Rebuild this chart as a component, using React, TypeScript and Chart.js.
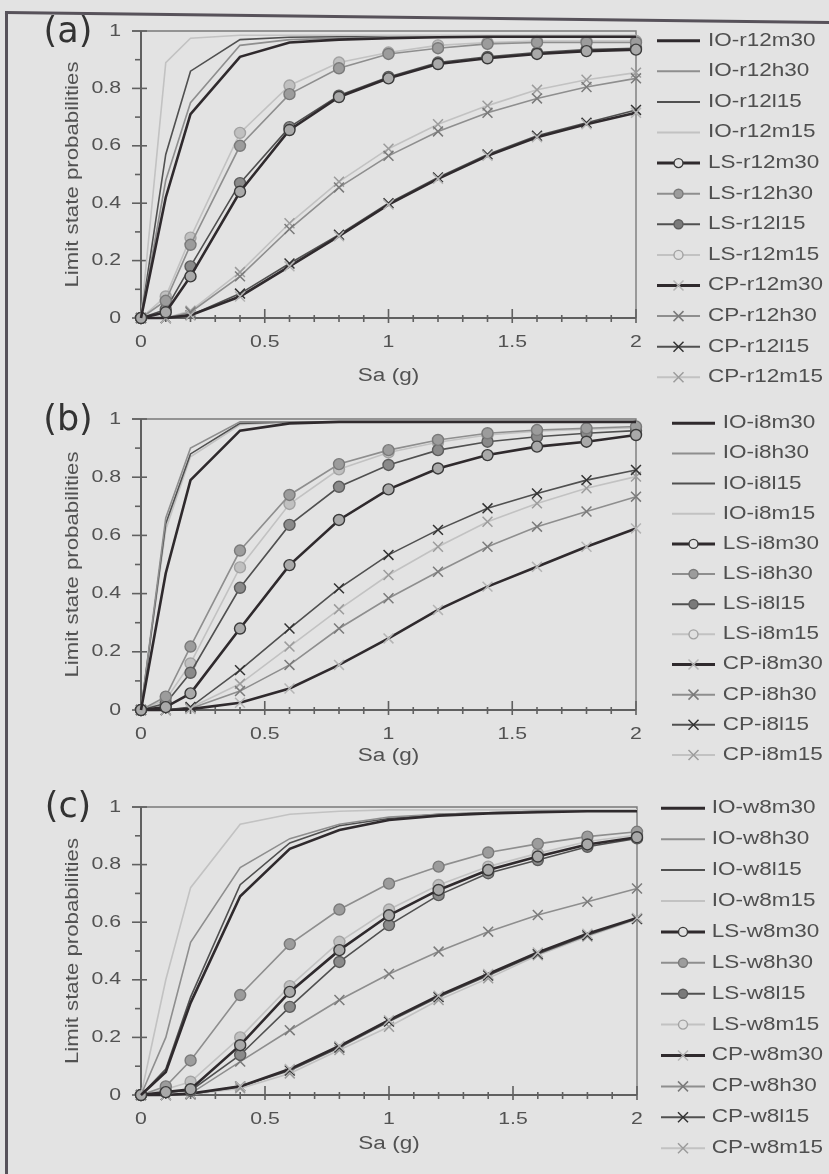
import React, { useEffect, useRef } from "react";
import { Chart, registerables } from "chart.js";
Chart.register(...registerables);

// ---------- data ----------
const SA = [0, 0.1, 0.2, 0.4, 0.6, 0.8, 1.0, 1.2, 1.4, 1.6, 1.8, 2.0];
const X_TICKS = [0, 0.5, 1, 1.5, 2];
const Y_TICKS = [0, 0.2, 0.4, 0.6, 0.8, 1];
const X_TITLE = "Sa (g)";
const Y_TITLE = "Limit state probabilities";
const LIMIT_STATES = ["IO", "LS", "CP"];

// panel (a)
const CASES_A = ["r12m30", "r12h30", "r12l15", "r12m15"];
const A_IO_M30 = [0, 0.42, 0.71, 0.91, 0.96, 0.97, 0.975, 0.978, 0.98, 0.98, 0.98, 0.98];
const A_IO_H30 = [0, 0.48, 0.75, 0.95, 0.97, 0.975, 0.98, 0.98, 0.98, 0.98, 0.98, 0.98];
const A_IO_L15 = [0, 0.57, 0.86, 0.97, 0.978, 0.98, 0.98, 0.98, 0.98, 0.98, 0.98, 0.98];
const A_IO_M15 = [0, 0.89, 0.975, 0.985, 0.985, 0.985, 0.985, 0.985, 0.985, 0.985, 0.985, 0.985];
const A_LS_M30 = [0, 0.02, 0.145, 0.44, 0.655, 0.77, 0.835, 0.885, 0.905, 0.92, 0.93, 0.935];
const A_LS_H30 = [0, 0.06, 0.255, 0.6, 0.78, 0.87, 0.92, 0.94, 0.955, 0.96, 0.96, 0.96];
const A_LS_L15 = [0, 0.03, 0.18, 0.47, 0.665, 0.775, 0.84, 0.89, 0.91, 0.925, 0.935, 0.94];
const A_LS_M15 = [0, 0.075, 0.28, 0.645, 0.81, 0.89, 0.925, 0.95, 0.96, 0.965, 0.965, 0.965];
const A_CP_M30 = [0, 0, 0.01, 0.075, 0.18, 0.285, 0.395, 0.485, 0.565, 0.63, 0.675, 0.715];
const A_CP_H30 = [0, 0, 0.02, 0.145, 0.31, 0.455, 0.565, 0.65, 0.715, 0.765, 0.805, 0.835];
const A_CP_L15 = [0, 0, 0.01, 0.085, 0.19, 0.29, 0.4, 0.49, 0.57, 0.635, 0.68, 0.725];
const A_CP_M15 = [0, 0, 0.025, 0.16, 0.33, 0.475, 0.59, 0.675, 0.74, 0.795, 0.83, 0.855];

// panel (b)
const CASES_B = ["i8m30", "i8h30", "i8l15", "i8m15"];
const B_IO_M30 = [0, 0.47, 0.79, 0.96, 0.985, 0.99, 0.99, 0.99, 0.99, 0.99, 0.99, 0.99];
const B_IO_H30 = [0, 0.66, 0.9, 0.99, 0.99, 0.99, 0.99, 0.99, 0.99, 0.99, 0.99, 0.99];
const B_IO_L15 = [0, 0.64, 0.88, 0.985, 0.99, 0.99, 0.99, 0.99, 0.99, 0.99, 0.99, 0.99];
const B_IO_M15 = [0, 0.62, 0.87, 0.98, 0.99, 0.99, 0.99, 0.99, 0.99, 0.99, 0.99, 0.99];
const B_LS_M30 = [0, 0.01, 0.057, 0.28, 0.498, 0.653, 0.758, 0.83, 0.876, 0.905, 0.922, 0.945];
const B_LS_H30 = [0, 0.046, 0.218, 0.548, 0.739, 0.845, 0.893, 0.928, 0.951, 0.962, 0.968, 0.974];
const B_LS_L15 = [0, 0.023, 0.128, 0.42, 0.636, 0.767, 0.842, 0.893, 0.922, 0.939, 0.951, 0.96];
const B_LS_M15 = [0, 0.035, 0.16, 0.49, 0.708, 0.827, 0.885, 0.92, 0.945, 0.958, 0.965, 0.97];
const B_CP_M30 = [0, 0, 0.003, 0.025, 0.074, 0.155, 0.246, 0.344, 0.424, 0.492, 0.561, 0.624];
const B_CP_H30 = [0, 0, 0.005, 0.065, 0.155, 0.28, 0.384, 0.475, 0.561, 0.63, 0.682, 0.733];
const B_CP_L15 = [0, 0, 0.01, 0.137, 0.28, 0.418, 0.533, 0.619, 0.693, 0.744, 0.79, 0.825];
const B_CP_M15 = [0, 0, 0.008, 0.09, 0.218, 0.346, 0.464, 0.561, 0.647, 0.71, 0.762, 0.802];

// panel (c)
const CASES_C = ["w8m30", "w8h30", "w8l15", "w8m15"];
const C_IO_M30 = [0, 0.08, 0.32, 0.69, 0.855, 0.92, 0.955, 0.97, 0.978, 0.982, 0.985, 0.985];
const C_IO_H30 = [0, 0.2, 0.53, 0.79, 0.89, 0.94, 0.965, 0.975, 0.98, 0.985, 0.985, 0.985];
const C_IO_L15 = [0, 0.09, 0.34, 0.73, 0.875, 0.935, 0.96, 0.975, 0.98, 0.985, 0.985, 0.985];
const C_IO_M15 = [0, 0.4, 0.72, 0.94, 0.975, 0.985, 0.99, 0.99, 0.99, 0.99, 0.99, 0.99];
const C_LS_M30 = [0, 0.01, 0.02, 0.173, 0.358, 0.503, 0.624, 0.712, 0.781, 0.828, 0.87, 0.895];
const C_LS_H30 = [0, 0.03, 0.12, 0.347, 0.524, 0.644, 0.734, 0.793, 0.842, 0.872, 0.897, 0.914];
const C_LS_L15 = [0, 0.01, 0.015, 0.139, 0.306, 0.462, 0.59, 0.694, 0.77, 0.816, 0.862, 0.891];
const C_LS_M15 = [0, 0.02, 0.046, 0.2, 0.378, 0.532, 0.644, 0.729, 0.793, 0.839, 0.88, 0.903];
const C_CP_M30 = [0, 0, 0.005, 0.03, 0.09, 0.17, 0.26, 0.345, 0.42, 0.495, 0.56, 0.615];
const C_CP_H30 = [0, 0, 0.005, 0.116, 0.225, 0.33, 0.42, 0.498, 0.567, 0.625, 0.671, 0.717];
const C_CP_L15 = [0, 0, 0.003, 0.03, 0.085, 0.165, 0.255, 0.34, 0.415, 0.49, 0.555, 0.612];
const C_CP_M15 = [0, 0, 0.002, 0.023, 0.075, 0.156, 0.237, 0.33, 0.405, 0.485, 0.55, 0.61];

// ---------- styles ----------
const LINE_COLORS = ["#2f2a2d", "#8e8e8e", "#505050", "#c2c2c2"];
const LINE_WIDTHS = [2.6, 1.6, 1.6, 1.6];
const LS_FILL = ["#a9a9a9", "#9c9c9c", "#8a8a8a", "#c0c0c0"];
const LS_EDGE = ["#3a3a3a", "#7a7a7a", "#5c5c5c", "#a2a2a2"];
const LS_LEGEND_FILL = ["#e2e2e2", "#9c9c9c", "#7a7a7a", "#e0e0e0"];
const CP_EDGE = ["#b4b4b4", "#7a7a7a", "#333333", "#9c9c9c"];
const TEXT_COLOR = "#525252";
const FONT = '"Liberation Sans", Arial, sans-serif';
const SX = 1.25;

function buildDatasets(cases: string[], series: number[][][]) {
  const out: any[] = [];
  LIMIT_STATES.forEach((ls, li) => {
    cases.forEach((cs, ci) => {
      const vals = series[li][ci];
      const base: any = {
        label: `${ls}-${cs}`,
        data: SA.map((x, i) => ({ x, y: vals[i] })),
        borderColor: LINE_COLORS[ci],
        borderWidth: LINE_WIDTHS[ci],
        tension: 0,
        clip: false,
        _ls: ls,
        _ci: ci,
      };
      if (ls === "IO") {
        base.pointRadius = 0;
      } else if (ls === "LS") {
        base.pointStyle = "circle";
        base.pointRadius = 5.5;
        base.pointBackgroundColor = LS_FILL[ci];
        base.pointBorderColor = LS_EDGE[ci];
        base.pointBorderWidth = 1.4;
      } else {
        base.pointStyle = "crossRot";
        base.pointRadius = 7;
        base.pointBorderColor = CP_EDGE[ci];
        base.pointBorderWidth = 1.5;
      }
      out.push(base);
    });
  });
  return out;
}

function txt(ctx: CanvasRenderingContext2D, s: string, x: number, y: number, size: number, align: CanvasTextAlign, color: string, rot = 0, sx = SX, family = FONT) {
  ctx.save();
  ctx.translate(x, y);
  if (rot) ctx.rotate(rot);
  ctx.scale(sx, 1);
  ctx.font = `${size}px ${family}`;
  ctx.fillStyle = color;
  ctx.textAlign = align;
  ctx.textBaseline = "middle";
  ctx.fillText(s, 0, 0);
  ctx.restore();
}

function fmt(v: number) {
  return String(parseFloat(v.toFixed(1)));
}

const decor = {
  id: "decor",
  beforeDatasetsDraw(chart: any) {
    const ctx = chart.ctx as CanvasRenderingContext2D;
    const xs = chart.scales.x;
    const ys = chart.scales.y;
    const L = xs.getPixelForValue(0);
    const R = xs.getPixelForValue(2);
    const B = ys.getPixelForValue(0);
    const T = ys.getPixelForValue(1);
    ctx.save();
    ctx.strokeStyle = "#7a7a7a";
    ctx.lineWidth = 1.4;
    ctx.beginPath();
    ctx.moveTo(L - 9, T);
    ctx.lineTo(R, T);
    ctx.lineTo(R, B);
    ctx.stroke();
    ctx.strokeStyle = "#606060";
    ctx.lineWidth = 2;
    ctx.beginPath();
    ctx.moveTo(L, T);
    ctx.lineTo(L, B);
    ctx.lineTo(R, B);
    ctx.stroke();
    ctx.lineWidth = 1.6;
    for (let k = 0; k <= 20; k++) {
      const px = xs.getPixelForValue(k / 10);
      ctx.beginPath();
      if (k % 5 === 0) {
        ctx.moveTo(px, B - 9);
        ctx.lineTo(px, B + 5);
      } else {
        ctx.moveTo(px, B - 3);
        ctx.lineTo(px, B + 4);
      }
      ctx.stroke();
    }
    for (let k = 0; k <= 10; k++) {
      const py = ys.getPixelForValue(k / 10);
      ctx.beginPath();
      if (k % 2 === 0) {
        ctx.moveTo(L - 9, py);
        ctx.lineTo(L + 6, py);
      } else {
        ctx.moveTo(L - 6, py);
        ctx.lineTo(L, py);
      }
      ctx.stroke();
    }
    ctx.restore();
  },
  afterDraw(chart: any, _a: any, o: any) {
    const ctx = chart.ctx as CanvasRenderingContext2D;
    const xs = chart.scales.x;
    const ys = chart.scales.y;
    const L = xs.getPixelForValue(0);
    const B = ys.getPixelForValue(0);
    const T = ys.getPixelForValue(1);
    X_TICKS.forEach((v) => txt(ctx, fmt(v), xs.getPixelForValue(v), B + 24.5, 17, "center", TEXT_COLOR));
    Y_TICKS.forEach((v) => txt(ctx, fmt(v), 121, ys.getPixelForValue(v), 17, "right", TEXT_COLOR));
    txt(ctx, X_TITLE, (L + xs.getPixelForValue(2)) / 2, o.xTitleY, 18, "center", TEXT_COLOR);
    txt(ctx, Y_TITLE, 73, (T + B) / 2, 17.5, "center", TEXT_COLOR, -Math.PI / 2, 1.27);
    txt(ctx, o.panel, 68, o.panelY, 35, "center", "#333333", 0, 1, '"DejaVu Sans", "Open Sans", sans-serif');
    const ds = chart.data.datasets;
    ds.forEach((d: any, i: number) => {
      const y = o.legY0 + i * o.legStep;
      const [x0, x1] = o.legLine;
      ctx.save();
      ctx.strokeStyle = d.borderColor;
      ctx.lineWidth = d.borderWidth + 0.4;
      ctx.beginPath();
      ctx.moveTo(x0, y);
      ctx.lineTo(x1, y);
      ctx.stroke();
      const cx = (x0 + x1) / 2;
      if (d._ls === "LS") {
        ctx.beginPath();
        ctx.arc(cx, y, 4.5, 0, Math.PI * 2);
        ctx.fillStyle = LS_LEGEND_FILL[d._ci];
        ctx.fill();
        ctx.lineWidth = 1.4;
        ctx.strokeStyle = d.pointBorderColor;
        ctx.stroke();
      } else if (d._ls === "CP") {
        ctx.strokeStyle = d.pointBorderColor;
        ctx.lineWidth = 1.5;
        const r = 5;
        ctx.beginPath();
        ctx.moveTo(cx - r, y - r);
        ctx.lineTo(cx + r, y + r);
        ctx.moveTo(cx - r, y + r);
        ctx.lineTo(cx + r, y - r);
        ctx.stroke();
      }
      ctx.restore();
      txt(ctx, d.label, o.legText, y, 18, "left", "#4f4f4f");
    });
  },
};

type PanelCfg = {
  top: number;
  height: number;
  plotTop: number;
  plotBottom: number;
  plotRight: number;
  cases: string[];
  series: number[][][];
  panel: string;
  panelY: number;
  xTitleY: number;
  legY0: number;
  legStep: number;
  legLine: [number, number];
  legText: number;
};

const W = 829;

function Panel({ cfg }: { cfg: PanelCfg }) {
  const ref = useRef<HTMLCanvasElement>(null);
  useEffect(() => {
    const c = ref.current!;
    const chart = new Chart(c, {
      type: "line",
      data: { datasets: buildDatasets(cfg.cases, cfg.series) },
      options: {
        responsive: false,
        animation: false,
        layout: { padding: { left: 0, right: W - cfg.plotRight, top: cfg.plotTop, bottom: 0 } },
        scales: {
          x: {
            type: "linear",
            min: 0,
            max: 2,
            ticks: { display: false },
            grid: { display: false },
            border: { display: false },
            afterFit: (s: any) => {
              s.height = cfg.height - cfg.plotBottom;
            },
          },
          y: {
            type: "linear",
            min: 0,
            max: 1,
            ticks: { display: false },
            grid: { display: false },
            border: { display: false },
            afterFit: (s: any) => {
              s.width = 141;
            },
          },
        },
        plugins: {
          legend: { display: false },
          tooltip: { enabled: false },
          decor: {
            panel: cfg.panel,
            panelY: cfg.panelY,
            xTitleY: cfg.xTitleY,
            legY0: cfg.legY0,
            legStep: cfg.legStep,
            legLine: cfg.legLine,
            legText: cfg.legText,
          },
        } as any,
      },
      plugins: [decor as any],
    });
    return () => chart.destroy();
  }, []);
  return (
    <canvas
      ref={ref}
      width={W}
      height={cfg.height}
      style={{ position: "absolute", left: 0, top: cfg.top, width: W, height: cfg.height }}
    />
  );
}

const PANELS: PanelCfg[] = [
  {
    top: 0, height: 395, plotTop: 31, plotBottom: 318, plotRight: 636,
    cases: CASES_A,
    series: [
      [A_IO_M30, A_IO_H30, A_IO_L15, A_IO_M15],
      [A_LS_M30, A_LS_H30, A_LS_L15, A_LS_M15],
      [A_CP_M30, A_CP_H30, A_CP_L15, A_CP_M15],
    ],
    panel: "(a)", panelY: 33, xTitleY: 376,
    legY0: 40.7, legStep: 30.6, legLine: [657, 700], legText: 708,
  },
  {
    top: 390, height: 395, plotTop: 29, plotBottom: 320, plotRight: 636,
    cases: CASES_B,
    series: [
      [B_IO_M30, B_IO_H30, B_IO_L15, B_IO_M15],
      [B_LS_M30, B_LS_H30, B_LS_L15, B_LS_M15],
      [B_CP_M30, B_CP_H30, B_CP_L15, B_CP_M15],
    ],
    panel: "(b)", panelY: 30.5, xTitleY: 366,
    legY0: 33.3, legStep: 30.15, legLine: [672, 715], legText: 722.7,
  },
  {
    top: 778, height: 396, plotTop: 29, plotBottom: 317, plotRight: 637,
    cases: CASES_C,
    series: [
      [C_IO_M30, C_IO_H30, C_IO_L15, C_IO_M15],
      [C_LS_M30, C_LS_H30, C_LS_L15, C_LS_M15],
      [C_CP_M30, C_CP_H30, C_CP_L15, C_CP_M15],
    ],
    panel: "(c)", panelY: 30, xTitleY: 366,
    legY0: 30.3, legStep: 30.9, legLine: [661, 705], legText: 711.7,
  },
];

export default function App() {
  return (
    <div
      style={{
        position: "absolute",
        left: 0,
        top: 0,
        width: W,
        height: 1174,
        overflow: "hidden",
        background: "#e3e3e3",
      }}
    >
      {PANELS.map((p) => (
        <Panel key={p.panel} cfg={p} />
      ))}
      <div
        style={{
          position: "absolute",
          left: 5,
          top: 11,
          width: 830,
          height: 3,
          background: "#57525a",
          transformOrigin: "0 0",
          transform: "rotate(0.7deg)",
        }}
      />
      <div
        style={{
          position: "absolute",
          left: 5,
          top: 11,
          width: 3,
          height: 1170,
          background: "#57525a",
        }}
      />
    </div>
  );
}
